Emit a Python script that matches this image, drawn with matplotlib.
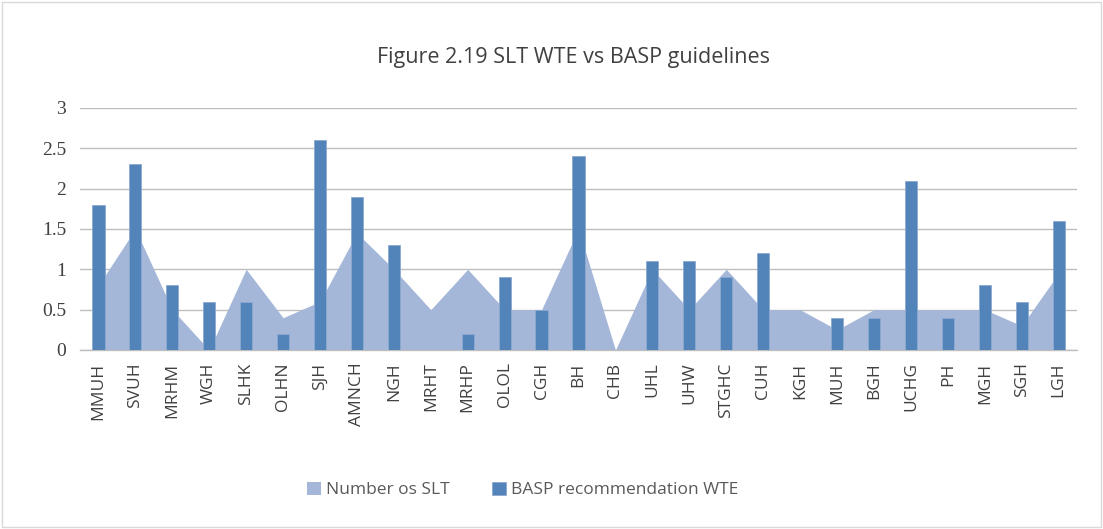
import numpy as np
import matplotlib.pyplot as plt
from matplotlib.patches import Rectangle

hospitals = ["MMUH", "SVUH", "MRHM", "WGH", "SLHK", "OLHN", "SJH", "AMNCH", "NGH",
             "MRHT", "MRHP", "OLOL", "CGH", "BH", "CHB", "UHL", "UHW", "STGHC",
             "CUH", "KGH", "MUH", "BGH", "UCHG", "PH", "MGH", "SGH", "LGH"]
slt_number = [0.8, 1.5, 0.5, 0.0, 1.0, 0.4, 0.6, 1.45, 1.0,
              0.5, 1.0, 0.5, 0.5, 1.5, 0.0, 1.0, 0.5, 1.0,
              0.5, 0.5, 0.25, 0.5, 0.5, 0.5, 0.5, 0.3, 0.95]
basp_wte = [1.8, 2.3, 0.8, 0.6, 0.6, 0.2, 2.6, 1.9, 1.3,
            0.0, 0.2, 0.9, 0.5, 2.4, 0.0, 1.1, 1.1, 0.9,
            1.2, 0.0, 0.4, 0.4, 2.1, 0.4, 0.8, 0.6, 1.6]
yticks = [0, 0.5, 1, 1.5, 2, 2.5, 3]
yticklabels = ["0", "0.5", "1", "1.5", "2", "2.5", "3"]

area_col = '#A4B7D8'
bar_col = '#5384B9'
text_col = '#404040'

fig = plt.figure(figsize=(11.03, 5.29), dpi=100)
fig.patches.append(Rectangle((0.002, 0.004), 0.996, 0.992, transform=fig.transFigure,
                             fill=False, edgecolor='#D9D9D9', linewidth=1))
ax = fig.add_axes([0.0725, 0.3384, 0.904, 0.4576])

x = np.arange(len(hospitals))
ax.fill_between(x, slt_number, 0, color=area_col, linewidth=0, zorder=2,
                label='Number os SLT')
ax.bar(x, basp_wte, width=0.33, color=bar_col, edgecolor='#8DA9D0', linewidth=0.6,
       zorder=3, label='BASP recommendation WTE')

ax.set_xlim(-0.5, len(hospitals) - 0.5)
ax.set_ylim(0, 3)
ax.set_yticks(yticks)
ax.set_yticklabels(yticklabels, family='Liberation Serif', fontsize=14, color=text_col)
ax.set_xticks(x)
ax.set_xticklabels(hospitals, rotation=90, family='Open Sans', fontsize=12.5, color=text_col)
ax.tick_params(axis='both', length=0)
ax.tick_params(axis='y', pad=10)
ax.tick_params(axis='x', pad=9)
ax.grid(axis='y', color='#BEBEBE', linewidth=1, zorder=0)
ax.set_axisbelow(True)
for s in ['top', 'right', 'left']:
    ax.spines[s].set_visible(False)
ax.spines['bottom'].set_color('#BEBEBE')
ax.spines['bottom'].set_linewidth(1)

fig.text(0.52, 0.892, 'Figure 2.19 SLT WTE vs BASP guidelines', ha='center', va='center',
         family='Open Sans', fontsize=15.5, color=text_col)

leg = fig.legend(loc='center', bbox_to_anchor=(0.474, 0.074), ncol=2, frameon=False,
                 prop={'family': 'Open Sans', 'size': 12.5}, handlelength=0.8,
                 handleheight=0.8, handletextpad=0.3, columnspacing=2.4)
for t in leg.get_texts():
    t.set_color('#595959')

fig.savefig('out.png', dpi=100)
